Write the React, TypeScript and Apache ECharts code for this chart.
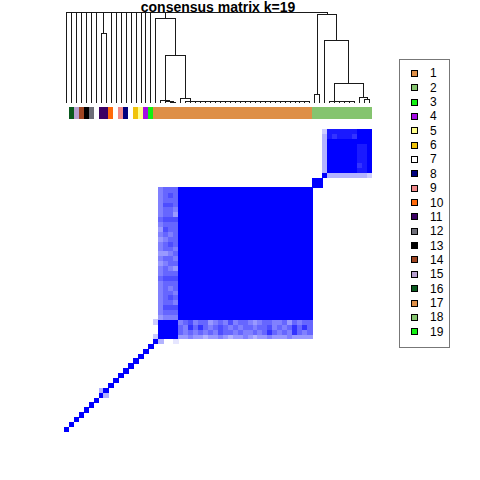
import React, { useEffect, useRef } from 'react';
import * as echarts from 'echarts';

const TITLE = 'consensus matrix k=19';

// cluster colours (legend order 1..19)
const legendLabels = ['1', '2', '3', '4', '5', '6', '7', '8', '9', '10', '11', '12', '13', '14', '15', '16', '17', '18', '19'];
const clusterColors = [
  '#DE8F47', '#85C46F', '#12F012', '#A50CE6', '#FFFF8C', '#F0C30A', '#FFFFFF', '#00007F', '#F08A8A', '#FF6A0A',
  '#3B0063', '#6E6E78', '#000000', '#9E4522', '#B8A0D0', '#0A5A1E', '#DE8F47', '#85C46F', '#12F012',
];

// cluster of each sample, in dendrogram order (62 samples)
const sampleCluster = [
  7, 16, 15, 14, 13, 12, 7, 11, 11, 10, 7, 9, 8, 7, 6, 5, 4, 3,
  1, 1, 1, 1, 1, 1, 1, 1, 1, 1, 1, 1, 1, 1, 1, 1, 1, 1, 1, 1, 1, 1, 1, 1, 1, 1, 1, 1, 1, 1, 1, 1,
  2, 2, 2, 2, 2, 2, 2, 2, 2, 2, 2, 2,
];

// consensus levels (0..10, 'A' = 10), runs of [row, startCol, levels]; row 0 is at the bottom
const diagonalRuns: [number, number, string][] = [
  [0, 0, 'A'], [1, 1, 'A'], [2, 2, 'A'], [3, 3, 'A'], [4, 4, 'A'], [5, 5, 'A'], [6, 6, 'A'],
  [7, 7, 'A3'], [8, 7, '3A'],
  [9, 9, 'A'], [10, 10, 'A'], [11, 11, 'A'], [12, 12, 'A'], [13, 13, 'A'], [14, 14, 'A'], [15, 15, 'A'], [16, 16, 'A'], [17, 17, 'A'],
  [18, 18, 'A3001'],
];
const smallBlockRuns: [number, number, string][] = [
  [19, 18, '2AAAA'], [20, 18, '0AAAA'], [21, 18, '0AAAA'], [22, 18, '2AAAA'],
];
// rows 19..22, columns 23..49
const bottomStrip: [number, string][] = [
  [19, '445443445434454344544454444'],
  [20, '656565657665655656865658656'],
  [21, '658686567656566566756568686'],
  [22, '567566456575665456655646566'],
];
// rows 23..49, columns 19..22
const leftStrip = [
  '4555', '5666', '5777', '5665', '5676', '5665', '5656', '5666', '6777', '5666',
  '5654', '4566', '5665', '4456', '5665', '5676', '4566', '5656', '4766', '5666',
  '6777', '5664', '5665', '5776', '5666', '5676', '5666',
];
const bigBlock = 'AAAAAAAAAA' + 'AAAAAAAAAA' + 'AAAAAAA'; // columns 23..49, rows 23..49
const greenRuns: [number, number, string][] = [
  [50, 50, 'AA'], [51, 50, 'AA'],
  [52, 52, 'A333333332'],
  [53, 52, '3AAAAAA99A'],
  [54, 52, '3AAAAAA89A'],
  [55, 52, '3AAAAAA99A'],
  [56, 52, '3AAAAAA99A'],
  [57, 52, '3AAAAAA99A'],
  [58, 52, '3AAAAAA99A'],
  [59, 52, '3AAAAAAAAA'],
  [60, 52, '3989998AAA'],
  [61, 52, '2999999AAA'],
];

// dendrogram merges, hclust style: negative = leaf -(i+1), positive = earlier merge (1-based)
const merges: [number, number, number][] = [
  [-22, -23, 0.01], [-21, 1, 0.02], [-20, 2, 0.036],
  [-49, -50, 0.015], [-48, 4, 0.015], [-47, 5, 0.015], [-46, 6, 0.015], [-45, 7, 0.015], [-44, 8, 0.015],
  [-43, 9, 0.015], [-42, 10, 0.015], [-41, 11, 0.015], [-40, 12, 0.015], [-39, 13, 0.015], [-38, 14, 0.015],
  [-37, 15, 0.015], [-36, 16, 0.015], [-35, 17, 0.015], [-34, 18, 0.015], [-33, 19, 0.015], [-32, 20, 0.015],
  [-31, 21, 0.015], [-30, 22, 0.015], [-29, 23, 0.015], [-28, 24, 0.015], [-27, 25, 0.015], [-26, 26, 0.015],
  [-25, 27, 0.015],
  [-24, 28, 0.055], [3, 29, 0.533], [-19, 30, 0.938],
  [-51, -52, 0.1],
  [-58, -59, 0.015], [-57, 33, 0.015], [-56, 34, 0.015], [-55, 35, 0.015], [-54, 36, 0.015],
  [-61, -62, 0.04], [-60, 38, 0.066], [37, 39, 0.216], [-53, 40, 0.695], [32, 41, 0.975],
  [-8, -9, 0.77],
  [31, 42, 1], [-18, 44, 1], [-17, 45, 1], [-16, 46, 1], [-15, 47, 1], [-14, 48, 1], [-13, 49, 1],
  [-12, 50, 1], [-11, 51, 1], [-10, 52, 1], [43, 53, 1],
  [-7, 54, 1], [-6, 55, 1], [-5, 56, 1], [-4, 57, 1], [-3, 58, 1], [-2, 59, 1], [-1, 60, 1],
];

const N = sampleCluster.length;
const sampleIds = sampleCluster.map((_, i) => String(i));

function lvl(ch: string) {
  return ch === 'A' ? 10 : Number(ch);
}

function buildMatrix() {
  const out: number[][] = [];
  const addRun = (r: number, c0: number, s: string) => {
    for (let k = 0; k < s.length; k++) {
      const v = lvl(s[k]);
      if (v > 0) out.push([c0 + k, r, v]);
    }
  };
  diagonalRuns.forEach(([r, c, s]) => addRun(r, c, s));
  smallBlockRuns.forEach(([r, c, s]) => addRun(r, c, s));
  bottomStrip.forEach(([r, s]) => addRun(r, 23, s));
  leftStrip.forEach((s, i) => {
    addRun(23 + i, 19, s);
    addRun(23 + i, 23, bigBlock);
  });
  greenRuns.forEach(([r, c, s]) => addRun(r, c, s));
  return out;
}

function buildDendro() {
  const pos: [number, number][] = [];
  const segs: number[][] = [];
  const get = (ref: number): [number, number] => (ref < 0 ? [-ref - 1, 0] : pos[ref - 1]);
  merges.forEach(([a, b, h], i) => {
    const [xa, ha] = get(a);
    const [xb, hb] = get(b);
    segs.push([xa, ha, xb, hb, h]);
    pos[i] = [(xa + xb) / 2, h];
  });
  return segs;
}

const FONT = 'Liberation Sans';

export default function App() {
  const ref = useRef<HTMLDivElement>(null);
  useEffect(() => {
    document.body.style.margin = '0';
    const chart = echarts.init(ref.current!, null, { renderer: 'svg' });
    const matrix = buildMatrix();
    const segs = buildDendro();

    const legendChildren: any[] = [
      { type: 'rect', shape: { x: 0, y: 0, width: 50, height: 288 }, style: { fill: '#fff', stroke: '#777', lineWidth: 1 } },
    ];
    legendLabels.forEach((lab, i) => {
      const cy = 13.8 + i * 14.36;
      legendChildren.push({
        type: 'rect',
        shape: { x: 12, y: Math.round(cy - 3), width: 6, height: 6 },
        style: { fill: clusterColors[i], stroke: '#000', lineWidth: 1 },
      });
      legendChildren.push({
        type: 'text',
        x: 30.5,
        y: cy,
        style: { text: lab, fill: '#000', fontSize: 12, fontFamily: FONT, align: 'left', verticalAlign: 'middle' },
      });
    });

    chart.setOption({
      animation: false,
      backgroundColor: '#ffffff',
      grid: [
        { left: 64, top: 129, width: 308, height: 303 },
        { left: 64, top: 107, width: 308, height: 12 },
        { left: 64, top: 12.7, width: 308, height: 90.6 },
      ],
      xAxis: [
        { gridIndex: 0, type: 'category', data: sampleIds, show: false },
        { gridIndex: 1, type: 'category', data: sampleIds, show: false },
        { gridIndex: 2, type: 'value', min: -0.5, max: N - 0.5, show: false },
      ],
      yAxis: [
        { gridIndex: 0, type: 'category', data: sampleIds, show: false },
        { gridIndex: 1, type: 'category', data: ['cluster'], show: false },
        { gridIndex: 2, type: 'value', min: 0, max: 1, show: false },
      ],
      visualMap: [
        { type: 'continuous', seriesIndex: 0, dimension: 2, min: 0, max: 10, show: false, inRange: { color: ['#ffffff', '#0000ff'] } },
        {
          type: 'piecewise', seriesIndex: 1, dimension: 2, show: false,
          pieces: clusterColors.map((c, i) => ({ value: i + 1, color: c })),
        },
      ],
      series: [
        { type: 'heatmap', xAxisIndex: 0, yAxisIndex: 0, data: matrix, silent: true, progressive: 0 },
        { type: 'heatmap', xAxisIndex: 1, yAxisIndex: 1, data: sampleCluster.map((c, i) => [i, 0, c]), silent: true },
        {
          type: 'custom', xAxisIndex: 2, yAxisIndex: 2, data: segs, silent: true, clip: false,
          encode: { x: [0, 2], y: [1, 3, 4] },
          renderItem: (_p: any, api: any) => {
            const xa = api.value(0), ha = api.value(1), xb = api.value(2), hb = api.value(3), h = api.value(4);
            return {
              type: 'polyline',
              shape: { points: [api.coord([xa, ha]), api.coord([xa, h]), api.coord([xb, h]), api.coord([xb, hb])] },
              style: { fill: 'none', stroke: '#1a1a1a', lineWidth: 1 },
            };
          },
        },
      ],
      graphic: [
        {
          type: 'text', x: 218, y: 7,
          style: { text: TITLE, fill: '#000', fontSize: 14, fontWeight: 'bold', fontFamily: FONT, align: 'center', verticalAlign: 'middle' },
        },
        { type: 'group', x: 399.5, y: 59.5, children: legendChildren },
      ],
    });
    const svg = ref.current!.querySelector('svg');
    if (svg) (svg as any).style.shapeRendering = 'crispEdges';
    return () => chart.dispose();
  }, []);
  return <div ref={ref} style={{ width: 480, height: 480 }} />;
}
